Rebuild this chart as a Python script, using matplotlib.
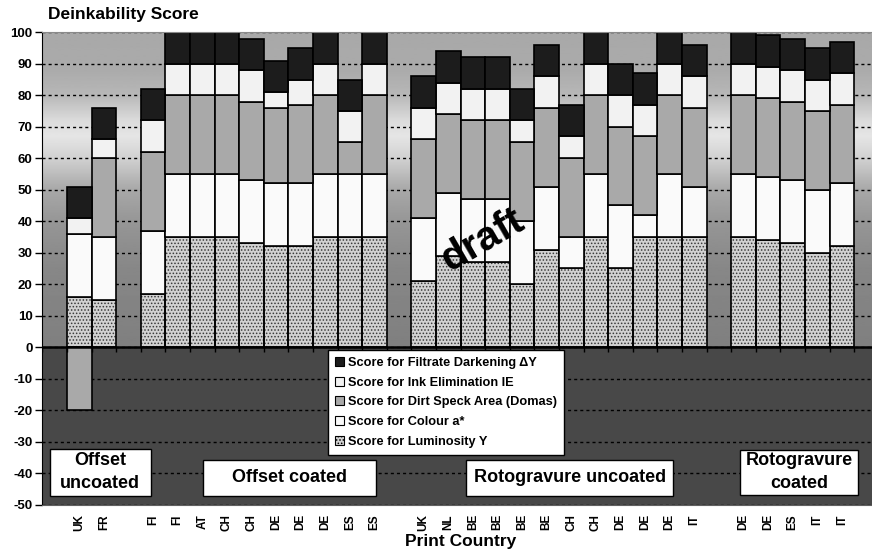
import numpy as np
import matplotlib
matplotlib.use('Agg')
import matplotlib.pyplot as plt
from matplotlib.patches import Patch, Rectangle

plt.rcParams['font.family'] = ['Liberation Sans', 'DejaVu Sans']
plt.rcParams['font.weight'] = 'bold'
plt.rcParams['axes.unicode_minus'] = False
plt.rcParams['hatch.linewidth'] = 0.7

#%% data
group_names = ['Offset\nuncoated', 'Offset coated', 'Rotogravure uncoated', 'Rotogravure\ncoated']
group_countries = [
    ['UK', 'FR'],
    ['FI', 'FI', 'AT', 'CH', 'CH', 'DE', 'DE', 'DE', 'ES', 'ES'],
    ['UK', 'NL', 'BE', 'BE', 'BE', 'BE', 'CH', 'CH', 'DE', 'DE', 'DE', 'IT'],
    ['DE', 'DE', 'ES', 'IT', 'IT'],
]

# score contributions (stacked, bottom to top)
lum = [16, 15,
       17, 35, 35, 35, 33, 32, 32, 35, 35, 35,
       21, 29, 27, 27, 20, 31, 25, 35, 25, 35, 35, 35,
       35, 34, 33, 30, 32]
colour = [20, 20,
          20, 20, 20, 20, 20, 20, 20, 20, 20, 20,
          20, 20, 20, 20, 20, 20, 10, 20, 20, 7, 20, 16,
          20, 20, 20, 20, 20]
dirt = [-20, 25,
        25, 25, 25, 25, 25, 24, 25, 25, 10, 25,
        25, 25, 25, 25, 25, 25, 25, 25, 25, 25, 25, 25,
        25, 25, 25, 25, 25]
ink = [5, 6,
       10, 10, 10, 10, 10, 5, 8, 10, 10, 10,
       10, 10, 10, 10, 7, 10, 7, 10, 10, 10, 10, 10,
       10, 10, 10, 10, 10]
filt = [10, 10,
        10, 10, 10, 10, 10, 10, 10, 10, 10, 10,
        10, 10, 10, 10, 10, 10, 10, 10, 10, 10, 10, 10,
        10, 10, 10, 10, 10]

series_names = ['Score for Luminosity Y', 'Score for Colour a*',
                'Score for Dirt Speck Area (Domas)', 'Score for Ink Elimination IE',
                'Score for Filtrate Darkening \u0394Y']
series_vals = [lum, colour, dirt, ink, filt]
series_fc = ['#d2d2d2', '#fafafa', '#a9a9a9', '#f2f2f2', '#1c1c1c']
series_hatch = ['.....', None, None, None, None]

#%% slot positions (one empty slot between groups)
pos, labels = [], []
slot = 1
for cs in group_countries:
    pos += list(range(slot, slot + len(cs)))
    labels += cs
    slot += len(cs) + 1
n_slots = slot
pos = np.array(pos)

#%% figure
fig = plt.figure(figsize=(8.72, 5.53), dpi=100)
W, H = 872, 553
x0_px, x1_px, ytop_px, ybot_px = 42.4, 878.8, 32.3, 504.5
ax = fig.add_axes([x0_px / W, 1 - ybot_px / H, (x1_px - x0_px) / W, (ybot_px - ytop_px) / H])
ax.set_xlim(-0.5, n_slots - 0.5)
ax.set_ylim(-50, 100)

# background: grey gradient above zero, dark below
gv = np.linspace(0, 100, 400)
gray = np.interp(gv, [0, 25, 40, 50, 60, 67, 72, 80, 88, 100],
                 [0.50, 0.53, 0.59, 0.66, 0.82, 0.90, 0.86, 0.72, 0.67, 0.66])
ax.imshow(gray[:, None], cmap='gray', vmin=0, vmax=1, origin='lower', aspect='auto',
          extent=[-0.5, n_slots - 0.5, 0, 100], zorder=0, interpolation='bilinear')
ax.axhspan(-50, 0, color='#484848', zorder=0.2, lw=0)

ax.set_axisbelow(True)
ax.yaxis.grid(True, color='black', ls=(0, (2.2, 2.2)), lw=1.0)

# stacked bars, negative values stack downward
pos_bot = np.zeros(len(pos))
neg_bot = np.zeros(len(pos))
for vals, fc, hatch in zip(series_vals, series_fc, series_hatch):
    v = np.array(vals, dtype=float)
    bot = np.where(v >= 0, pos_bot, neg_bot)
    if hatch:
        ax.bar(pos, v, 1.0, bottom=bot, color=fc, hatch=hatch, edgecolor='#3a3a3a', lw=0, zorder=2)
        ax.bar(pos, v, 1.0, bottom=bot, fill=False, edgecolor='black', lw=1.2, zorder=2.5)
    else:
        ax.bar(pos, v, 1.0, bottom=bot, color=fc, edgecolor='black', lw=1.2, zorder=2.5)
    pos_bot = np.where(v >= 0, pos_bot + v, pos_bot)
    neg_bot = np.where(v < 0, neg_bot + v, neg_bot)

ax.axhline(0, color='black', lw=1.8, zorder=3)
ax.vlines(np.arange(-0.5, n_slots, 1), -1.7, 0, color='black', lw=1.0, zorder=3)

# axes styling
ax.spines['right'].set_visible(False)
ax.spines['top'].set_color('#8a8a8a')
ax.spines['bottom'].set_color('#606060')
ax.spines['left'].set_color('black')
ax.set_yticks(np.arange(-50, 101, 10))
ax.tick_params(axis='y', direction='out', length=5, width=1, pad=2, labelsize=9.5)
ax.set_xticks(pos)
ax.set_xticklabels(labels, rotation=90, fontsize=8.5)
ax.tick_params(axis='x', length=0, pad=7)

ax.set_xlabel('Print Country', fontsize=12.5, fontweight='bold')
ax.xaxis.set_label_coords(0.5, -0.062)
fig.text(48 / W, 1 - 14 / H, 'Deinkability Score', fontsize=12.5, fontweight='bold',
         ha='left', va='center')

# group label boxes
boxes = [(-0.19, 3.90, -47.2, -32.4),
         (6.02, 13.05, -47.2, -35.8),
         (16.72, 25.15, -47.2, -35.8),
         (27.86, 32.67, -47.0, -32.6)]
for name, (bx0, bx1, by0, by1) in zip(group_names, boxes):
    ax.add_patch(Rectangle((bx0, by0), bx1 - bx0, by1 - by0, fc='white', ec='black',
                           lw=1.0, zorder=4))
    ax.text((bx0 + bx1) / 2, (by0 + by1) / 2, name, ha='center', va='center',
            fontsize=13, fontweight='bold', linespacing=1.45, zorder=5)

# legend (top entry first)
handles = [Patch(fc=fc, ec='black', hatch=h, lw=0.8) for fc, h in zip(series_fc, series_hatch)]
leg = fig.legend(handles[::-1], series_names[::-1], loc='upper left',
                 bbox_to_anchor=(328 / W, 1 - 350 / H), fontsize=9.2,
                 frameon=True, fancybox=False, framealpha=1, edgecolor='black',
                 handlelength=0.7, handleheight=0.7, handletextpad=0.3,
                 labelspacing=0.6, borderpad=0.55, borderaxespad=0)
leg.get_frame().set_linewidth(1.0)
leg.set_zorder(10)

ax.text(17.4, 34, 'draft', rotation=30, fontsize=29, fontweight='bold',
        ha='center', va='center', zorder=6)

fig.savefig('out.png', dpi=100)
